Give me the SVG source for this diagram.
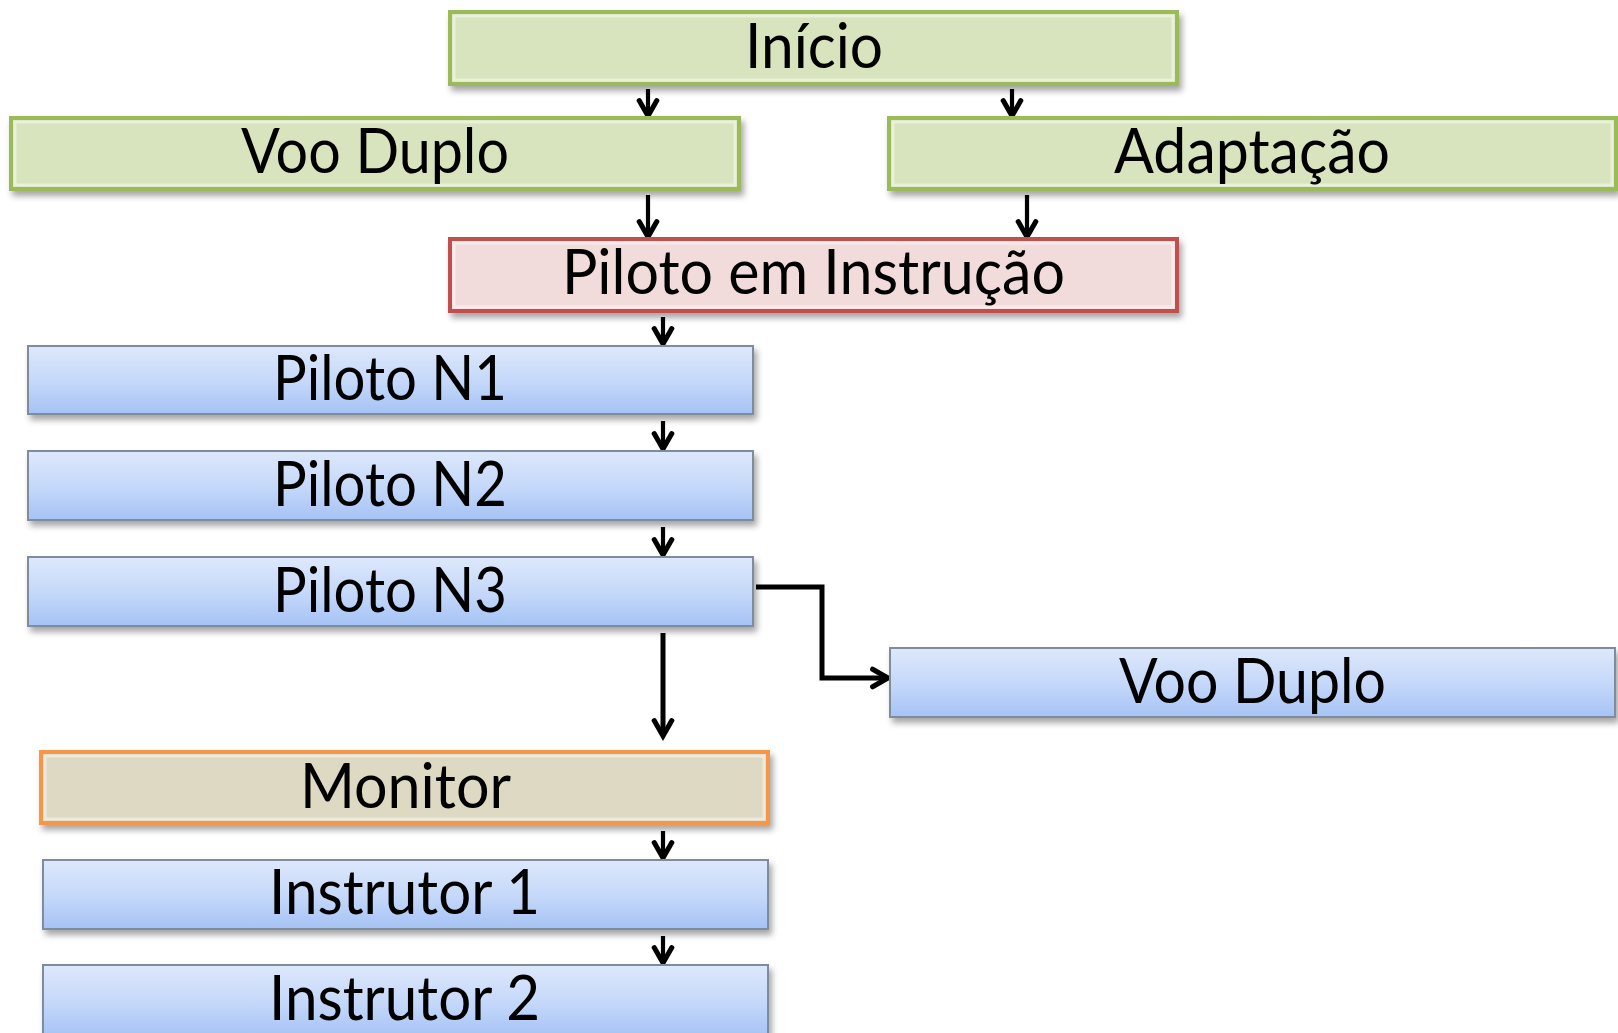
<svg xmlns="http://www.w3.org/2000/svg" width="1618" height="1033" viewBox="0 0 1618 1033">
  <defs>
    <linearGradient id="blueGrad" x1="0" y1="0" x2="0" y2="1">
      <stop offset="0" stop-color="#dde8fb"/>
      <stop offset="0.5" stop-color="#c6d9fa"/>
      <stop offset="1" stop-color="#a5c3f5"/>
    </linearGradient>
    <filter id="shadow" x="-5%" y="-20%" width="110%" height="150%">
      <feDropShadow dx="3" dy="5" stdDeviation="3" flood-color="#000" flood-opacity="0.35"/>
    </filter>
    <marker id="arrow" viewBox="0 0 20 20" refX="17" refY="10" markerWidth="22" markerHeight="22" markerUnits="userSpaceOnUse" orient="auto" overflow="visible">
      <path d="M3,2 L17,10 L3,18" fill="none" stroke="#000" stroke-width="4.6" stroke-linecap="round" stroke-linejoin="miter"/>
    </marker>
  </defs>
  <style>
    .label { font-family: "Lato", "Liberation Sans", sans-serif; font-size: 62px; fill: #000; }
    .green { fill: #d7e4bd; stroke: #9bbb59; stroke-width: 4; }
    .red { fill: #f2dcdb; stroke: #c0504d; stroke-width: 4; }
    .tan { fill: #ddd9c3; stroke: #f79646; stroke-width: 4; }
    .blue { fill: url(#blueGrad); stroke: #7f8c9c; stroke-width: 2; }
    .bevel { fill: none; stroke: #ffffff; stroke-opacity: 0.45; stroke-width: 3; }
    .conn { fill: none; stroke: #000; stroke-width: 4.2; }
    .connThick { fill: none; stroke: #000; stroke-width: 5; }
  </style>
  <rect width="1618" height="1033" fill="#ffffff"/>

  <g id="connectors">
    <line class="conn" x1="648" y1="89" x2="648" y2="116" marker-end="url(#arrow)"/>
    <line class="conn" x1="1012" y1="89" x2="1012" y2="116" marker-end="url(#arrow)"/>
    <line class="conn" x1="648" y1="195" x2="648" y2="237" marker-end="url(#arrow)"/>
    <line class="conn" x1="1027" y1="195" x2="1027" y2="237" marker-end="url(#arrow)"/>
    <line class="conn" x1="663" y1="317" x2="663" y2="344" marker-end="url(#arrow)"/>
    <line class="conn" x1="663" y1="421" x2="663" y2="449" marker-end="url(#arrow)"/>
    <line class="conn" x1="663" y1="527" x2="663" y2="555" marker-end="url(#arrow)"/>
    <line class="connThick" x1="663" y1="633" x2="663" y2="736" marker-end="url(#arrow)"/>
    <polyline class="connThick" points="756,587 822,587 822,678 888,678" marker-end="url(#arrow)"/>
    <line class="conn" x1="663" y1="831" x2="663" y2="858" marker-end="url(#arrow)"/>
    <line class="conn" x1="663" y1="936" x2="663" y2="963" marker-end="url(#arrow)"/>
  </g>

  <g id="node-inicio">
    <rect class="green" x="450" y="12" width="727" height="72" filter="url(#shadow)"/>
    <rect class="bevel" x="454" y="16" width="719" height="64"/>
    <text class="label" x="745" y="68" textLength="138" lengthAdjust="spacingAndGlyphs">Início</text>
  </g>

  <g id="node-voo-duplo-1">
    <rect class="green" x="11" y="118" width="728" height="71" filter="url(#shadow)"/>
    <rect class="bevel" x="15" y="122" width="720" height="63"/>
    <text class="label" x="241" y="173" textLength="268" lengthAdjust="spacingAndGlyphs">Voo Duplo</text>
  </g>

  <g id="node-adaptacao">
    <rect class="green" x="889" y="118" width="727" height="71" filter="url(#shadow)"/>
    <rect class="bevel" x="893" y="122" width="719" height="63"/>
    <text class="label" x="1114" y="173" textLength="276" lengthAdjust="spacingAndGlyphs">Adaptação</text>
  </g>

  <g id="node-piloto-instrucao">
    <rect class="red" x="450" y="239" width="727" height="72" filter="url(#shadow)"/>
    <rect class="bevel" x="454" y="243" width="719" height="64"/>
    <text class="label" x="562" y="294" textLength="503" lengthAdjust="spacingAndGlyphs">Piloto em Instrução</text>
  </g>

  <g id="node-piloto-n1">
    <rect class="blue" x="28" y="346" width="725" height="68" filter="url(#shadow)"/>
    <text class="label" x="273" y="400" textLength="234" lengthAdjust="spacingAndGlyphs">Piloto N1</text>
  </g>

  <g id="node-piloto-n2">
    <rect class="blue" x="28" y="451" width="725" height="69" filter="url(#shadow)"/>
    <text class="label" x="273" y="506" textLength="234" lengthAdjust="spacingAndGlyphs">Piloto N2</text>
  </g>

  <g id="node-piloto-n3">
    <rect class="blue" x="28" y="557" width="725" height="69" filter="url(#shadow)"/>
    <text class="label" x="273" y="612" textLength="234" lengthAdjust="spacingAndGlyphs">Piloto N3</text>
  </g>

  <g id="node-voo-duplo-2">
    <rect class="blue" x="890" y="648" width="725" height="69" filter="url(#shadow)"/>
    <text class="label" x="1119" y="703" textLength="267" lengthAdjust="spacingAndGlyphs">Voo Duplo</text>
  </g>

  <g id="node-monitor">
    <rect class="tan" x="41" y="752" width="727" height="71" filter="url(#shadow)"/>
    <rect class="bevel" x="45" y="756" width="719" height="63"/>
    <text class="label" x="300" y="808" textLength="211" lengthAdjust="spacingAndGlyphs">Monitor</text>
  </g>

  <g id="node-instrutor-1">
    <rect class="blue" x="43" y="860" width="725" height="69" filter="url(#shadow)"/>
    <text class="label" x="269" y="914" textLength="271" lengthAdjust="spacingAndGlyphs">Instrutor 1</text>
  </g>

  <g id="node-instrutor-2">
    <rect class="blue" x="43" y="965" width="725" height="72" filter="url(#shadow)"/>
    <text class="label" x="269" y="1020" textLength="271" lengthAdjust="spacingAndGlyphs">Instrutor 2</text>
  </g>
</svg>
